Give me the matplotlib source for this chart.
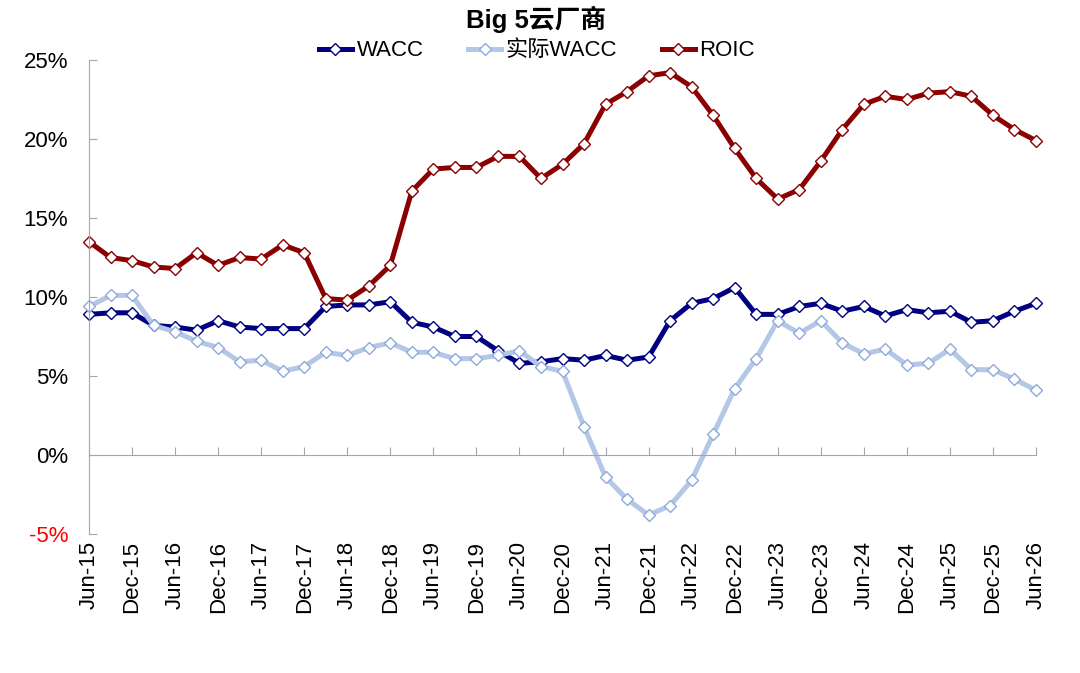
import matplotlib
matplotlib.use('Agg')
import matplotlib.pyplot as plt
import numpy as np

plt.rcParams['font.family'] = ['Liberation Sans', 'Noto Sans CJK SC', 'DejaVu Sans']

# quarterly values, Jun-15 .. Jun-26 (%)
wacc = [8.9, 9.0, 9.0, 8.2, 8.1, 7.9, 8.5, 8.1, 8.0, 8.0,
        8.0, 9.4, 9.5, 9.5, 9.7, 8.4, 8.1, 7.5, 7.5, 6.6,
        5.8, 5.9, 6.1, 6.0, 6.3, 6.0, 6.2, 8.5, 9.6, 9.9,
        10.6, 8.9, 8.9, 9.4, 9.6, 9.1, 9.4, 8.8, 9.2, 9.0,
        9.1, 8.4, 8.5, 9.1, 9.6]
actual_wacc = [9.4, 10.1, 10.1, 8.2, 7.8, 7.2, 6.8, 5.9, 6.0, 5.3,
               5.6, 6.5, 6.3, 6.8, 7.1, 6.5, 6.5, 6.1, 6.1, 6.3,
               6.6, 5.6, 5.3, 1.8, -1.4, -2.8, -3.8, -3.2, -1.6, 1.3,
               4.2, 6.1, 8.5, 7.7, 8.5, 7.1, 6.4, 6.7, 5.7, 5.8,
               6.7, 5.4, 5.4, 4.8, 4.1]
roic = [13.5, 12.5, 12.3, 11.9, 11.8, 12.8, 12.0, 12.5, 12.4, 13.3,
        12.8, 9.9, 9.8, 10.7, 12.0, 16.7, 18.1, 18.2, 18.2, 18.9,
        18.9, 17.5, 18.4, 19.7, 22.2, 23.0, 24.0, 24.2, 23.3, 21.5,
        19.4, 17.5, 16.2, 16.8, 18.6, 20.6, 22.2, 22.7, 22.5, 22.9,
        23.0, 22.7, 21.5, 20.6, 19.9]
tick_labels = ['Jun-15', 'Dec-15', 'Jun-16', 'Dec-16', 'Jun-17', 'Dec-17',
               'Jun-18', 'Dec-18', 'Jun-19', 'Dec-19', 'Jun-20', 'Dec-20',
               'Jun-21', 'Dec-21', 'Jun-22', 'Dec-22', 'Jun-23', 'Dec-23',
               'Jun-24', 'Dec-24', 'Jun-25', 'Dec-25', 'Jun-26']

x = np.arange(len(roic))
tick_pos = x[::2]

fig = plt.figure(figsize=(10.8, 6.73), dpi=100)
ax = fig.add_axes([89/1080, 1 - 534/673, (1036 - 89)/1080, (534 - 60)/673])

line_kw = dict(lw=3.6, marker='D', ms=5.8, mfc='white', mew=1.0, clip_on=False)
ax.plot(x, wacc, color='#000080', mec='#000080', label='WACC', **line_kw)
ax.plot(x, actual_wacc, color='#B4C7E7', mec='#8EA9DB', label='实际WACC', **line_kw)
ax.plot(x, roic, color='#8B0000', mec='#8B0000', label='ROIC', **line_kw)

ax.set_xlim(0, 44)
ax.set_ylim(-5, 25)

grey = '#A6A6A6'
ax.spines['top'].set_visible(False)
ax.spines['right'].set_visible(False)
ax.spines['left'].set_color(grey)
ax.spines['bottom'].set_color(grey)
ax.spines['bottom'].set_position(('data', 0))

yt = np.arange(-5, 26, 5)
ax.set_yticks(yt)
ax.set_yticklabels(['%d%%' % v for v in yt])
ax.tick_params(axis='y', direction='in', length=6, color=grey, labelsize=16, pad=15)
for lab, v in zip(ax.get_yticklabels(), yt):
    if v < 0:
        lab.set_color('#FF0000')

ax.set_xticks(tick_pos)
ax.tick_params(axis='x', direction='in', length=6, color=grey, labelbottom=False)

sec = ax.secondary_xaxis('bottom')
sec.set_xticks(tick_pos, tick_labels, rotation=90)
sec.tick_params(length=0, pad=5, labelsize=16)
sec.spines['bottom'].set_visible(False)

fig.text(0.496, 1 - 19/673, 'Big 5云厂商', ha='center', va='center',
         fontsize=18.5, fontweight='bold')
fig.legend(loc='center', bbox_to_anchor=(0.497, 1 - 51/673), ncol=3, frameon=False,
           fontsize=16, handlelength=1.5, handletextpad=0.2, columnspacing=2.0)

fig.savefig('out.png', dpi=100)
